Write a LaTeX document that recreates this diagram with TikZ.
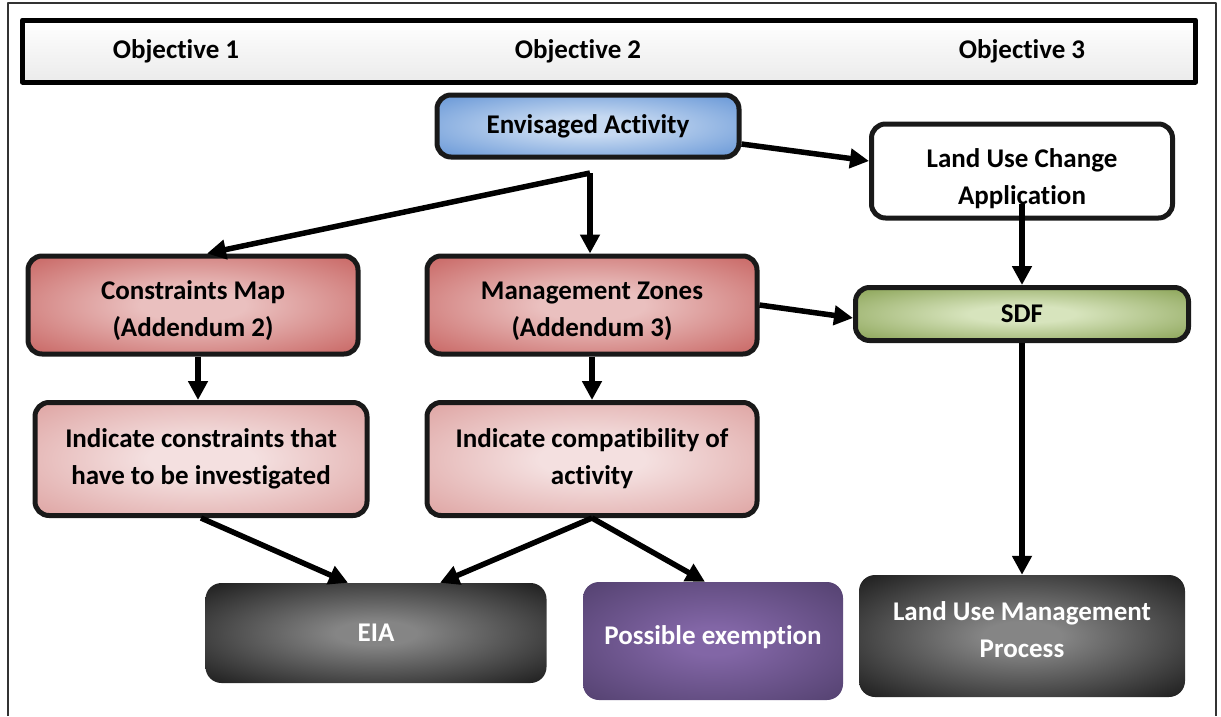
\documentclass[tikz,border=0pt]{standalone}
\usepackage{fontspec}
\setmainfont{Carlito}[Ligatures=NoCommon]
\usetikzlibrary{arrows.meta}

\definecolor{bluein}{HTML}{C6D9F1}
\definecolor{blueout}{HTML}{4F86D0}
\definecolor{redin}{HTML}{EAC0BF}
\definecolor{redout}{HTML}{C0504D}
\definecolor{pinkin}{HTML}{F4E0E0}
\definecolor{pinkout}{HTML}{D99694}
\definecolor{greenin}{HTML}{D7E4BD}
\definecolor{greenout}{HTML}{77933C}
\definecolor{blackin}{HTML}{858585}
\definecolor{blackout}{HTML}{0D0D0D}
\definecolor{purpin}{HTML}{8266A6}
\definecolor{purpout}{HTML}{4D3C68}

\pgfdeclareradialshading{blueshade}{\pgfpoint{0bp}{0bp}}{color(0bp)=(bluein); color(8bp)=(bluein); color(42bp)=(blueout); color(50bp)=(blueout)}
\pgfdeclareradialshading{redshade}{\pgfpoint{0bp}{0bp}}{color(0bp)=(redin); color(8bp)=(redin); color(42bp)=(redout); color(50bp)=(redout)}
\pgfdeclareradialshading{pinkshade}{\pgfpoint{0bp}{0bp}}{color(0bp)=(pinkin); color(8bp)=(pinkin); color(42bp)=(pinkout); color(50bp)=(pinkout)}
\pgfdeclareradialshading{greenshade}{\pgfpoint{0bp}{0bp}}{color(0bp)=(greenin); color(8bp)=(greenin); color(42bp)=(greenout); color(50bp)=(greenout)}
\pgfdeclareradialshading{blackshade}{\pgfpoint{0bp}{0bp}}{color(0bp)=(blackin); color(6bp)=(blackin); color(40bp)=(blackout); color(50bp)=(blackout)}
\pgfdeclareradialshading{purpshade}{\pgfpoint{0bp}{0bp}}{color(0bp)=(purpin); color(6bp)=(purpin); color(40bp)=(purpout); color(50bp)=(purpout)}

\begin{document}
\begin{tikzpicture}[x=1pt,y=-1pt,line join=round,
    every node/.style={font=\fontsize{27}{37}\selectfont\bfseries},
    box/.style={rounded corners=14pt,draw=black!90,line width=5pt,align=center,inner sep=0pt,shade,shading=#1},
    darkbox/.style={rounded corners=16pt,align=center,inner sep=0pt,text=white,shade,shading=#1},
    arr/.style={line width=5.5pt,-{Triangle[length=19pt,width=19pt]}}]
        \useasboundingbox (0,0) rectangle (1221,716);
        % frame and header
        \draw[line width=1.5pt,black!80] (8,716) -- (8,3) -- (1216,3) -- (1216,716);
        \node[draw,line width=5pt,top color=white,bottom color=black!8,minimum width=1173pt,minimum height=62pt] (hdr) at (609,51) {};
        \node (obj1) at (176,51) {Objective 1};
        \node (obj2) at (578,51) {Objective 2};
        \node (obj3) at (1022,51) {Objective 3};

        % boxes
        \node[box=blueshade,minimum width=302pt,minimum height=62pt] (ea) at (588,126) {Envisaged Activity};
        \node[box=blueshade,shading=axis,top color=white,bottom color=white,minimum width=301pt,minimum height=94pt] (luc) at (1022,171) {\rule{0pt}{34pt}Land Use Change\\Application};
        \node[box=greenshade,minimum width=333pt,minimum height=53pt] (sdf) at (1022,314) {SDF};
        \node[box=redshade,minimum width=330pt,minimum height=98pt] (cm) at (193,305) {\rule{0pt}{30pt}Constraints Map\\(Addendum 2)};
        \node[box=redshade,minimum width=330pt,minimum height=98pt] (mz) at (592,305) {\rule{0pt}{30pt}Management Zones\\(Addendum 3)};
        \node[box=pinkshade,minimum width=332pt,minimum height=113pt] (ic) at (201,459) {Indicate constraints that\\have to be investigated};
        \node[box=pinkshade,minimum width=330pt,minimum height=113pt] (ico) at (592,459) {Indicate compatibility of\\activity};
        \node[darkbox=blackshade,minimum width=341pt,minimum height=100pt] (eia) at (376,633) {EIA};
        \node[darkbox=purpshade,minimum width=260pt,minimum height=118pt] (pe) at (713,641) {\raisebox{12pt}{Possible exemption}};
        \node[darkbox=blackshade,minimum width=326pt,minimum height=122pt] (lump) at (1022,636) {Land Use Management\\Process\rule[-12pt]{0pt}{12pt}};

        % arrows
        \coordinate (split) at (590,173);
        \draw[arr] ([yshift=-18pt]ea.east) -- ([yshift=10pt]luc.west);
        \draw[arr] (split) -- (split |- mz.north);
        \draw[arr] (split) -- ([xshift=14pt]cm.north);
        \draw[arr] (mz.east) -- ([yshift=-4pt]sdf.west);
        \draw[arr] ([yshift=17pt]luc.south) -- (sdf.north);
        \draw[arr] (sdf.south) -- (lump.north);
        \draw[arr] ([xshift=5pt]cm.south) -- ([xshift=-3pt]ic.north);
        \draw[arr] (mz.south) -- (ico.north);
        \draw[arr] (ic.south) -- ([xshift=-28pt]eia.north);
        \draw[arr] (ico.south) -- ([xshift=64pt]eia.north);
        \draw[arr] (ico.south) -- ([xshift=-8pt]pe.north);
\end{tikzpicture}
\end{document}
